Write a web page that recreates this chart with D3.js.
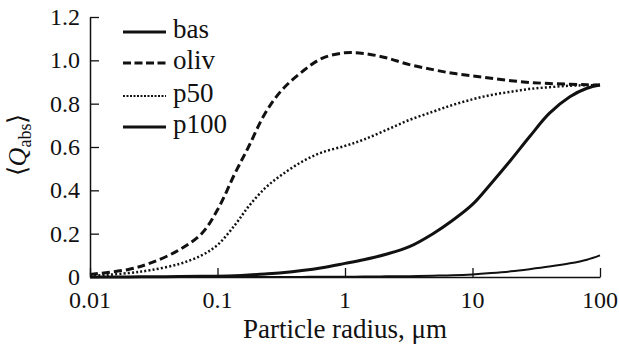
<!DOCTYPE html>
<html><head><meta charset="utf-8">
<script src="https://cdn.jsdelivr.net/npm/d3@7"></script>
</head>
<body style="margin:0;background:#fff">
<svg id="chart" width="619" height="347"></svg>
<script>
const radius = [0.01,0.02,0.03,0.05,0.075,0.1,0.137,0.175,0.236,0.32,0.46,0.66,1,1.4,2.1,3.2,4.9,7,10,14,20,28,40,58,79,100];
const bas  = [0,0.0005,0.001,0.002,0.003,0.004,0.006,0.009,0.014,0.02,0.03,0.043,0.063,0.08,0.105,0.14,0.2,0.262,0.335,0.432,0.54,0.647,0.755,0.832,0.871,0.886];
const oliv = [0.012,0.035,0.065,0.125,0.2,0.31,0.478,0.6,0.755,0.863,0.947,1.009,1.035,1.032,1.012,0.98,0.957,0.94,0.928,0.917,0.906,0.898,0.893,0.89,0.887,0.886];
const p50  = [0.005,0.018,0.032,0.06,0.1,0.148,0.24,0.325,0.41,0.472,0.532,0.575,0.605,0.634,0.678,0.725,0.763,0.794,0.82,0.84,0.855,0.868,0.876,0.883,0.885,0.886];
const p100 = [0,0,0,0,0,0,0,0,0,0,0.0005,0.0008,0.001,0.002,0.003,0.004,0.006,0.008,0.012,0.018,0.026,0.036,0.048,0.063,0.08,0.1];
const seriesNames = ["bas","oliv","p50","p100"];
const xTicks = [0.01,0.1,1,10,100];
const xTickLabels = ["0.01","0.1","1","10","100"];
const yTicks = [0,0.2,0.4,0.6,0.8,1.0,1.2];
const yTickLabels = ["0","0.2","0.4","0.6","0.8","1.0","1.2"];
const xTitle = "Particle radius, μm";

const FONT = "Times New Roman";
const styles = {
  bas:  {w:3,   dash:null},
  oliv: {w:3,   dash:"8,4"},
  p50:  {w:2.5, dash:"2,2.2"},
  p100: {w:2,   dash:null}
};
const values = {bas, oliv, p50, p100};

const svg = d3.select("#chart");
const x = d3.scaleLog().domain([0.01,100]).range([90,600]);
const y = d3.scaleLinear().domain([0,1.2]).range([277,17]);

// curves
const line = d3.line().x(d=>x(d[0])).y(d=>y(d[1])).curve(d3.curveCatmullRom.alpha(0.5));
seriesNames.forEach(n=>{
  const pts = radius.map((r,i)=>[r, values[n][i]]);
  svg.append("path").datum(pts).attr("d",line)
    .attr("fill","none").attr("stroke","#111")
    .attr("stroke-width",styles[n].w)
    .attr("stroke-dasharray",styles[n].dash);
});

// axes (lines/ticks from d3 axes, labels as separate serif text)
const xAxis = d3.axisBottom(x).tickValues(xTicks).tickSize(-9).tickFormat("").tickSizeOuter(0);
const gx = svg.append("g").attr("transform","translate(0,277)").call(xAxis);
gx.select(".domain").attr("stroke","#111").attr("stroke-width",1.5);
gx.selectAll(".tick line").attr("stroke","#111").attr("stroke-width",1.3);
gx.selectAll(".tick text").remove();

const yAxis = d3.axisLeft(y).tickValues(yTicks).tickSize(-9).tickFormat("").tickSizeOuter(0);
const gy = svg.append("g").attr("transform","translate(90,0)").call(yAxis);
gy.select(".domain").attr("stroke","#111").attr("stroke-width",1.5);
gy.selectAll(".tick line").attr("stroke","#111").attr("stroke-width",1.3);
gy.selectAll(".tick text").remove();

svg.append("g").selectAll("text").data(xTicks).join("text")
  .attr("x",d=>x(d)).attr("y",308).attr("text-anchor","middle")
  .attr("font-family",FONT).attr("font-size",24).attr("fill","#111")
  .text((d,i)=>xTickLabels[i]);
svg.append("g").selectAll("text").data(yTicks).join("text")
  .attr("x",80).attr("y",d=>y(d)+8).attr("text-anchor","end")
  .attr("font-family",FONT).attr("font-size",24).attr("fill","#111")
  .text((d,i)=>yTickLabels[i]);

// legend
const legY = [32,63,96,127];
seriesNames.forEach((n,i)=>{
  svg.append("line").attr("x1",123).attr("x2",166).attr("y1",legY[i]).attr("y2",legY[i])
    .attr("stroke","#111").attr("stroke-width",n==="p50"?2.2:2.8)
    .attr("stroke-dasharray", n==="oliv"?"8,3.5":(n==="p50"?"2,1.5":null));
  svg.append("text").attr("x",173).attr("y",legY[i]+6).attr("font-family",FONT).attr("font-size",27).attr("fill","#111").text(n);
});

// x title
svg.append("text").attr("x",345).attr("y",338).attr("text-anchor","middle").attr("font-family",FONT).attr("font-size",27).attr("fill","#111").text(xTitle);

// y title
const yt = svg.append("text").attr("transform","translate(26,145) rotate(-90)").attr("text-anchor","middle").attr("font-family",FONT).attr("font-size",26).attr("fill","#111");
yt.append("tspan").text("⟨");
yt.append("tspan").attr("font-style","italic").text("Q");
yt.append("tspan").attr("dy",5).attr("font-size",18).text("abs");
yt.append("tspan").attr("dy",-5).text("⟩");
</script>
</body></html>
